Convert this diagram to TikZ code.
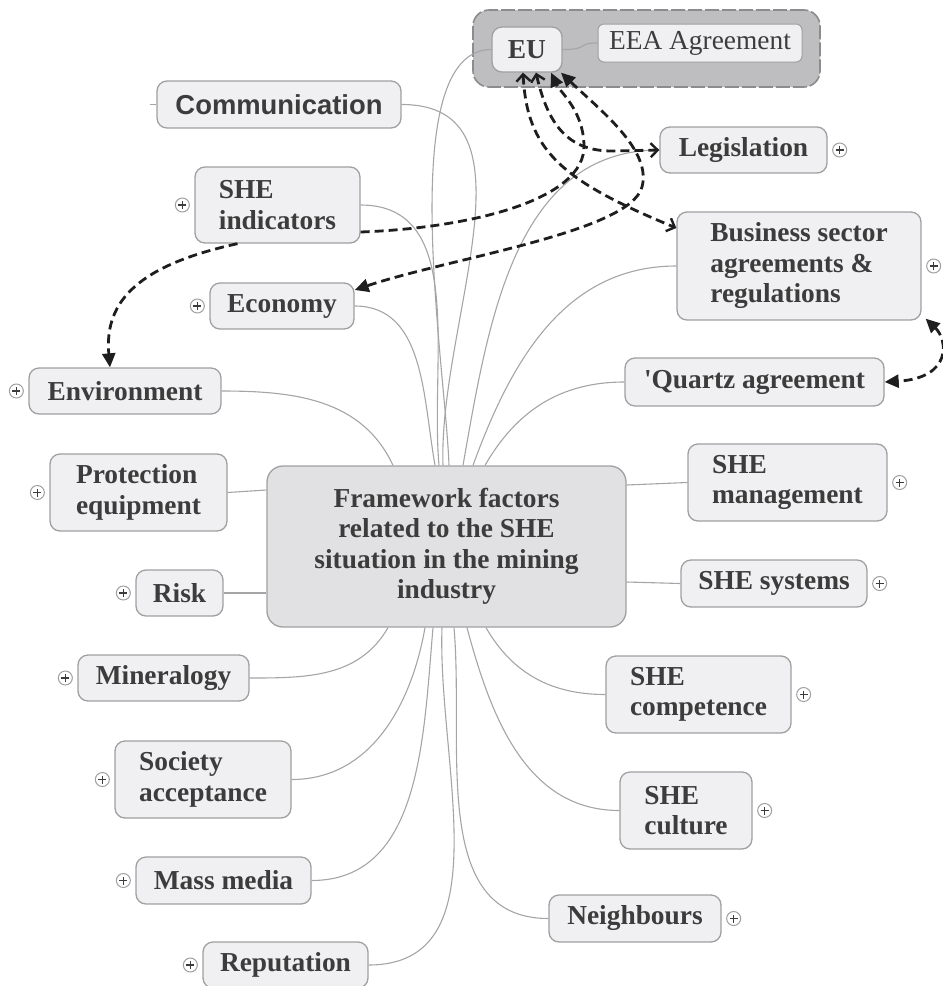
\documentclass[tikz,border=0pt]{standalone}
\usepackage{fontspec}
\setmainfont{Liberation Serif}
\newfontfamily\sanshead{Liberation Sans}
\usetikzlibrary{arrows.meta}

\definecolor{boxfill}{RGB}{240,240,242}
\definecolor{boxline}{RGB}{160,160,162}
\definecolor{corefill}{RGB}{225,225,227}
\definecolor{grpfill}{RGB}{190,190,192}
\definecolor{grpline}{RGB}{140,140,142}
\definecolor{txt}{RGB}{60,60,60}
\definecolor{linkcol}{RGB}{165,165,167}
\definecolor{dashcol}{RGB}{30,30,30}

% straight (typewriter) apostrophe glyph
\newcommand{\straightquote}{{\XeTeXglyph\XeTeXglyphindex "quotesingle"\relax}}

\begin{document}
\begin{tikzpicture}[x=1pt,y=-1pt,
  box/.style={draw=boxline, fill=boxfill, rounded corners=10pt, line width=1.3pt,
    text=txt, font=\bfseries\fontsize{27.4}{30.5}\selectfont, align=left, inner sep=0pt},
  sz/.style 2 args={minimum width=#1pt, minimum height=#2pt},
  core/.style={box, fill=corefill, rounded corners=16pt, align=center},
  grp/.style={draw=grpline, fill=grpfill, dash pattern=on 14pt off 3pt, line width=1.6pt,
    rounded corners=16pt, inner sep=0pt},
  link/.style={draw=linkcol, line width=1.1pt},
  rel/.style={draw=dashcol, line width=2.8pt, dash pattern=on 9pt off 5pt},
  fillhead/.style={-{Triangle[length=14pt,width=13pt]}},
  fillboth/.style={{Triangle[length=14pt,width=13pt]}-{Triangle[length=14pt,width=13pt]}},
  openboth/.style={{Straight Barb[length=7pt,width=14pt,line width=2.4pt]}-{Straight Barb[length=7pt,width=14pt,line width=2.4pt]}},
  plusmark/.style={circle, draw=boxline, fill=white, line width=1pt, minimum size=14pt, inner sep=0pt,
    path picture={
      \draw[txt, line width=1.2pt] ([xshift=3pt]path picture bounding box.west) -- ([xshift=-3pt]path picture bounding box.east);
      \draw[txt, line width=1.2pt] ([yshift=3pt]path picture bounding box.south) -- ([yshift=-3pt]path picture bounding box.north);}},
]
\useasboundingbox (0,0) rectangle (943,986);

% EU group
\node[grp, sz={347}{77}] (grp) at (646.5,48.5) {};
\node[box, sz={70}{45}] (eu) at (527,49.5) {EU};
\node[box, sz={204}{38}, font=\fontsize{27.4}{30.5}\selectfont, rounded corners=6pt, line width=1pt] (eea) at (700,43) {EEA Agreement};
\draw[link] (eu.east) .. controls +(28,0) and +(-22,0) .. (eea.west);

% central topic
\node[core, sz={359}{161}] (c) at (446.5,546.5) {Framework factors\\related to the SHE\\situation in the mining\\industry};

% left branches
\node[box, sz={244}{47}, font=\sanshead\bfseries\fontsize{27.4}{30.5}\selectfont] (com) at (279,104.5) {Communication};
\node[box, sz={165}{76}] (ind) at (277.5,205) {SHE\\indicators};
\node[box, sz={144}{46}] (eco) at (282,306) {Economy};
\node[box, sz={192}{46}] (env) at (125,391) {Environment};
\node[box, sz={177}{77}] (pro) at (138.5,492.5) {Protection\\equipment};
\node[box, sz={87}{46}] (risk) at (179.5,593) {Risk};
\node[box, sz={171}{46}] (min) at (163.5,678) {Mineralogy};
\node[box, sz={176}{77}] (soc) at (203,779.5) {Society\\acceptance};
\node[box, sz={175}{47}] (mass) at (223.5,880.5) {Mass media};
\node[box, sz={165}{46}] (rep) at (285.5,965) {Reputation};

% right branches
\node[box, sz={167}{46}] (leg) at (743.5,150) {Legislation};
\node[box, sz={244}{108}] (bus) at (799,266) {Business sector\\agreements \&\\regulations};
\node[box, sz={259}{48}] (qua) at (754.5,382) {\straightquote Quartz agreement};
\node[box, sz={199}{77}] (mgt) at (787.5,482.5) {SHE\\management};
\node[box, sz={186}{47}] (sys) at (774,583.5) {SHE systems};
\node[box, sz={185}{77}] (comp) at (698.5,694.5) {SHE\\competence};
\node[box, sz={132}{77}] (cul) at (686,810.5) {SHE\\culture};
\node[box, sz={172}{47}] (nei) at (635,918.5) {Neighbours};

% expand markers
\node[plusmark] (p1) at ([xshift=-12pt]ind.west) {};
\node[plusmark] (p2) at ([xshift=-12pt]eco.west) {};
\node[plusmark] (p3) at ([xshift=-12pt]env.west) {};
\node[plusmark] (p4) at ([xshift=-12pt]pro.west) {};
\node[plusmark] (p5) at ([xshift=-12pt]risk.west) {};
\node[plusmark] (p6) at ([xshift=-12pt]min.west) {};
\node[plusmark] (p7) at ([xshift=-12pt]soc.west) {};
\node[plusmark] (p8) at ([xshift=-12pt]mass.west) {};
\node[plusmark] (p9) at ([xshift=-12pt]rep.west) {};
\node[plusmark] (p10) at ([xshift=12pt]leg.east) {};
\node[plusmark] (p11) at ([xshift=12pt]bus.east) {};
\node[plusmark] (p12) at ([xshift=12pt]mgt.east) {};
\node[plusmark] (p13) at ([xshift=12pt]sys.east) {};
\node[plusmark] (p14) at ([xshift=12pt]comp.east) {};
\node[plusmark] (p15) at ([xshift=12pt]cul.east) {};
\node[plusmark] (p16) at ([xshift=12pt]nei.east) {};
\coordinate (comstub) at ([xshift=-6pt]com.west);
\draw[link] (com.west) -- (comstub);

% branch connectors
\draw[link] ([xshift=-53.5pt]c.north) to[out=115,in=0] (env.east);
\draw[link] ([xshift=-11.5pt]c.north) to[out=100,in=0] (eco.east);
\draw[link] ([xshift=-7.5pt]c.north) to[out=95,in=0] (ind.east);
\draw[link] ([xshift=-3.5pt]c.north) to[out=92,in=0] (com.east);
\draw[link] ([xshift=2.5pt]c.north) to[out=92,in=180,looseness=0.6] (eu.west);
\draw[link] ([xshift=16.5pt]c.north) to[out=80,in=180] (leg.west);
\draw[link] ([xshift=26.5pt]c.north) to[out=70,in=180] (bus.west);
\draw[link] ([xshift=38.5pt]c.north) to[out=60,in=180] (qua.west);
\draw[link] (pro.east) -- ([yshift=56.5pt]c.west);
\draw[link] (risk.east) -- ([yshift=-46.5pt]c.west);
\draw[link] ([yshift=61.5pt]c.east) -- (mgt.west);
\draw[link] ([yshift=-35.5pt]c.east) -- (sys.west);
\draw[link] ([xshift=-58.5pt]c.south) to[out=-120,in=0] (min.east);
\draw[link] ([xshift=-21.5pt]c.south) to[out=-100,in=0] (soc.east);
\draw[link] ([xshift=-13.5pt]c.south) to[out=-95,in=0] (mass.east);
\draw[link] ([xshift=-4.5pt]c.south) to[out=-92,in=0] (rep.east);
\draw[link] ([xshift=7.5pt]c.south) to[out=-85,in=180] (nei.west);
\draw[link] ([xshift=20.5pt]c.south) to[out=-75,in=180] (cul.west);
\draw[link] ([xshift=39.5pt]c.south) to[out=-60,in=180] (comp.west);

% relation arrows
\draw[rel, openboth] ([xshift=-4pt]eu.south) .. controls (527,150) and (560,180) .. ([yshift=38pt]bus.west);
\draw[rel, openboth] ([xshift=9pt]eu.south) .. controls (548,125) and (568,151) .. (612,151) -- (leg.west);
\draw[rel, fillhead] ([yshift=-27pt]ind.east) .. controls (470,228) and (586,200) .. (584,145) .. controls (583,110) and (560,92) .. ([xshift=24pt]eu.south);
\draw[rel, fillboth] ([xshift=34pt]eu.south) .. controls (600,110) and (652,150) .. (642,187) .. controls (630,232) and (450,258) .. ([yshift=16pt]eco.east);
\draw[rel, fillhead] ([xshift=-40pt]ind.south) .. controls (140,265) and (104,300) .. ([xshift=-15pt]env.north);
\draw[rel, fillboth] ([xshift=4pt,yshift=2pt]bus.south east) .. controls (948,340) and (952,378) .. (qua.east);
\end{tikzpicture}
\end{document}
